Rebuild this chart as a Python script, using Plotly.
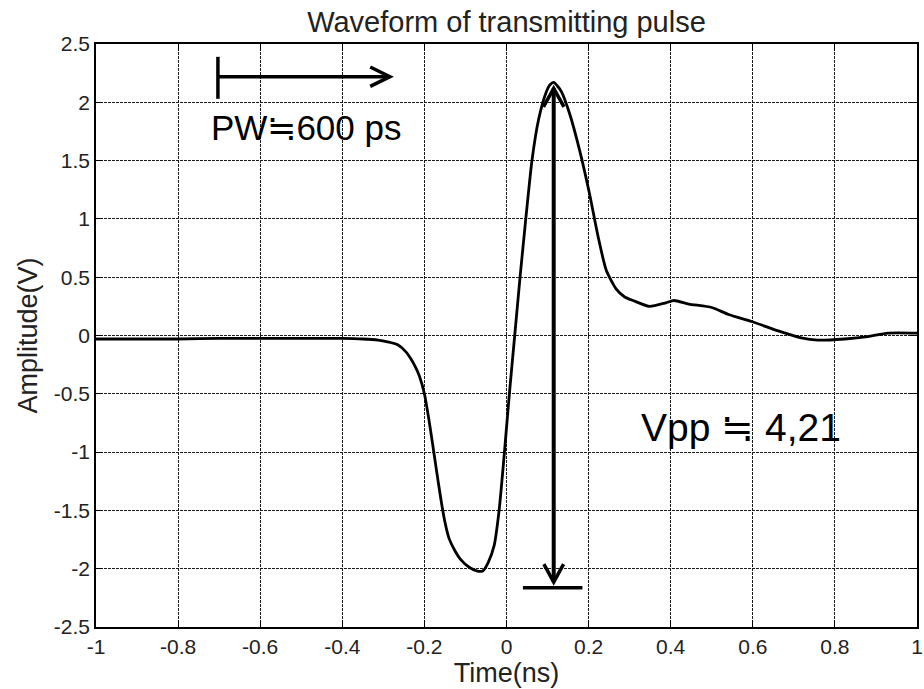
import plotly.graph_objects as go

# Waveform data (time in ns, amplitude in V)
time_ns = [-1.0, -0.9, -0.8, -0.7, -0.6, -0.5, -0.4, -0.35, -0.313, -0.29, -0.265,
           -0.245, -0.233, -0.222, -0.212, -0.2, -0.19, -0.18, -0.17, -0.16, -0.15,
           -0.14, -0.125, -0.112, -0.09, -0.071, -0.058, -0.045, -0.03, -0.018,
           -0.005, 0.007, 0.02, 0.033, 0.047, 0.062, 0.078, 0.096, 0.106,
           0.115, 0.124, 0.134, 0.154, 0.178, 0.202, 0.223, 0.243, 0.267, 0.288, 0.308,
           0.348, 0.388, 0.408, 0.444, 0.5, 0.541, 0.597, 0.662, 0.718, 0.758, 0.824,
           0.88, 0.929, 1.0]
amplitude = [-0.03, -0.03, -0.03, -0.025, -0.025, -0.025, -0.025, -0.03, -0.04, -0.055,
             -0.08, -0.14, -0.2, -0.27, -0.35, -0.5, -0.7, -0.93, -1.17, -1.4, -1.6,
             -1.74, -1.85, -1.92, -1.99, -2.02, -2.02, -1.95, -1.8, -1.5, -1.0, -0.5,
             0.0, 0.5, 1.0, 1.5, 1.85, 2.08, 2.15,
             2.17, 2.14, 2.09, 1.9, 1.59, 1.22, 0.85, 0.56, 0.40, 0.33, 0.30,
             0.25, 0.28, 0.30, 0.27, 0.24, 0.18, 0.12, 0.04, -0.02, -0.04, -0.03,
             -0.01, 0.02, 0.02]

x_ticks = [-1, -0.8, -0.6, -0.4, -0.2, 0, 0.2, 0.4, 0.6, 0.8, 1]
x_tick_labels = ["-1", "-0.8", "-0.6", "-0.4", "-0.2", "0", "0.2", "0.4", "0.6", "0.8", "1"]
y_ticks = [-2.5, -2, -1.5, -1, -0.5, 0, 0.5, 1, 1.5, 2, 2.5]
y_tick_labels = ["-2.5", "-2", "-1.5", "-1", "-0.5", "0", "0.5", "1", "1.5", "2", "2.5"]

pw_label = "PW≒600 ps"
vpp_label = "Vpp ≒ 4,21"

FONT = "Liberation Sans, Arial, sans-serif"

fig = go.Figure()
fig.add_trace(go.Scatter(x=time_ns, y=amplitude, mode="lines",
                         line=dict(color="black", width=2.8, shape="spline", smoothing=0.6),
                         showlegend=False, hoverinfo="skip"))

# annotation geometry (data coordinates)
pw_x0, pw_x1, pw_y = -0.703, -0.284, 2.22
vpp_x, vpp_top, vpp_bot = 0.115, 2.12, -2.115
arrow_w = 3.5
shapes = [
    dict(type="line", x0=pw_x0, x1=pw_x0, y0=2.03, y1=2.39, line=dict(color="black", width=arrow_w)),
    dict(type="line", x0=pw_x0, x1=pw_x1, y0=pw_y, y1=pw_y, line=dict(color="black", width=arrow_w)),
    dict(type="path", path=f"M {pw_x1-0.048},{pw_y+0.083} L {pw_x1},{pw_y} L {pw_x1-0.048},{pw_y-0.083}",
         line=dict(color="black", width=arrow_w)),
    dict(type="line", x0=vpp_x, x1=vpp_x, y0=vpp_bot, y1=vpp_top, line=dict(color="black", width=4)),
    dict(type="path", path=f"M {vpp_x-0.025},{vpp_top-0.16} L {vpp_x},{vpp_top} L {vpp_x+0.025},{vpp_top-0.16}",
         line=dict(color="black", width=arrow_w)),
    dict(type="path", path=f"M {vpp_x-0.024},{vpp_bot+0.155} L {vpp_x},{vpp_bot} L {vpp_x+0.024},{vpp_bot+0.155}",
         line=dict(color="black", width=arrow_w)),
    dict(type="line", x0=0.04, x1=0.185, y0=-2.164, y1=-2.164, line=dict(color="black", width=arrow_w)),
]

annotations = [
    dict(x=-0.724, y=1.78, xref="x", yref="y", text=pw_label, showarrow=False,
         xanchor="left", yanchor="middle", font=dict(family=FONT, size=35, color="black")),
    dict(x=0.323, y=-0.79, xref="x", yref="y", text=vpp_label, showarrow=False,
         xanchor="left", yanchor="middle", font=dict(family=FONT, size=39, color="black")),
]

axis_common = dict(
    showline=True, linecolor="black", linewidth=1.5, mirror="ticks",
    ticks="inside", ticklen=7, tickcolor="black", tickwidth=1.2,
    showgrid=True, gridcolor="#1a1a1a", gridwidth=1, griddash="3px,1px",
    zeroline=False, tickfont=dict(family=FONT, size=21, color="#222"),
    ticklabeloverflow="allow",
)

fig.update_layout(
    width=924, height=689,
    margin=dict(l=96, r=1, t=44, b=62),
    paper_bgcolor="white", plot_bgcolor="white",
    title=dict(text="Waveform of transmitting pulse", x=0.5, xref="paper", xanchor="center",
               y=1 - 22 / 689, yref="container", yanchor="middle",
               font=dict(family=FONT, size=29, color="#222")),
    xaxis=dict(range=[-1, 1], tickvals=x_ticks, ticktext=x_tick_labels,
               title=dict(text="Time(ns)", font=dict(family=FONT, size=27, color="#222"), standoff=0),
               **axis_common),
    yaxis=dict(range=[-2.5, 2.5], tickvals=y_ticks, ticktext=y_tick_labels,
               title=dict(text="Amplitude(V)", font=dict(family=FONT, size=27, color="#222"), standoff=8),
               **axis_common),
    shapes=shapes, annotations=annotations,
)

fig.write_html("out.html")
